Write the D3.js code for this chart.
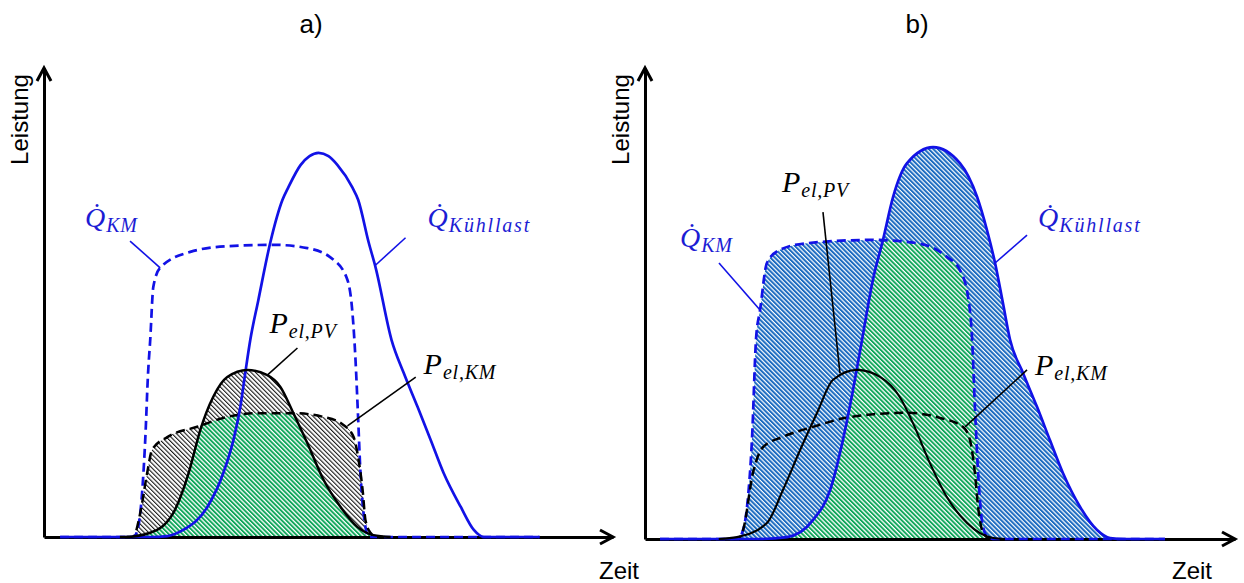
<!DOCTYPE html>
<html><head><meta charset="utf-8">
<script src="https://cdn.jsdelivr.net/npm/d3@7"></script>
<style>html,body{margin:0;padding:0;background:#fff;} svg{display:block;}</style>
</head><body>
<script>
// ---------- DATA (time in h, power in arbitrary units 0..100) ----------
const panelTitles = ["a)", "b)"];
const yAxisLabel = "Leistung";
const xAxisLabel = "Zeit";

// Panel a
const qKuehllastA = [[0.68,0],[4.5,0],[5.2,0.2],[5.87,1.5],[6.89,6.4],[7.56,13.6],[7.99,20.7],[8.28,27.7],[8.49,35.0],[8.7,42.0],[9.04,50.5],[9.55,62.9],[10.06,71.9],[10.31,74.6],[10.82,79.3],[11.2,81.2],[11.58,81.9],[12.0,81.2],[12.38,79.3],[13.0,74.6],[13.25,71.9],[13.69,62.9],[13.99,57.4],[14.66,42.0],[15.17,35.0],[15.76,27.7],[16.31,20.7],[16.86,13.6],[17.58,6.4],[18.13,1.5],[18.55,0],[20.9,0]];
const qKmA = [[0.68,0],[3.7,0],[3.85,0.4],[4.06,5.1],[4.27,20.7],[4.39,35.0],[4.48,42.0],[4.61,53.3],[4.9,57.4],[6.17,60.8],[7.73,62.0],[9.68,62.3],[11.11,61.6],[12.21,59.1],[12.8,54.8],[13.01,47.8],[13.14,37.7],[13.23,27.7],[13.35,13.6],[13.56,2.1],[13.69,0],[20.9,0]];
const pElPvA = [[3.2,0],[3.42,0],[4.48,0.9],[5.45,5.1],[6.1,13.6],[6.59,22.8],[7.14,29.9],[7.73,34.1],[8.58,35.6],[9.42,34.5],[9.97,32.0],[10.52,26.4],[11.11,20.0],[11.79,12.2],[12.51,6.4],[13.23,2.1],[13.9,0.4],[14.62,0]];
const pElKmA = [[3.5,0],[3.76,0],[4.06,5.1],[4.35,13.6],[4.56,18.6],[5.2,21.3],[6.46,23.5],[7.73,25.6],[9.0,26.4],[10.52,26.4],[11.79,25.6],[12.63,23.9],[13.06,21.3],[13.27,16.4],[13.44,10.0],[13.56,3.6],[13.77,0.9],[13.99,0],[14.3,0]];

// Panel b
const qKuehllastB = [[0.61,0],[4.68,0],[5.78,0.4],[6.83,4.0],[7.53,10.4],[8.05,21.0],[8.46,31.6],[8.83,42.3],[9.27,55.0],[9.68,63.5],[10.09,72.6],[10.66,79.8],[11.72,83.2],[12.81,79.8],[13.51,72.6],[13.91,65.6],[14.24,58.6],[14.56,50.1],[14.85,42.3],[15.38,35.2],[15.95,28.0],[16.47,21.0],[17.0,14.0],[17.7,6.8],[18.39,1.9],[18.92,0.2],[19.53,0],[21.15,0]];
const qKmB = [[0.61,0],[3.78,0],[3.95,1.3],[4.15,6.8],[4.35,21.0],[4.52,42.7],[4.68,48.6],[4.96,58.6],[5.49,61.4],[6.59,62.8],[9.27,63.5],[11.06,62.8],[12.28,59.9],[12.81,57.1],[13.14,51.4],[13.3,42.9],[13.42,28.0],[13.55,14.0],[13.75,2.5],[13.95,0.4],[14.24,0],[21.15,0]];
const pElPvB = [[3.0,0],[3.74,0.4],[4.96,3.4],[5.61,10.4],[6.31,18.9],[7.0,26.8],[7.65,33.8],[8.62,35.9],[9.56,34.4],[10.37,30.1],[10.9,24.6],[11.59,16.1],[12.28,8.9],[13.1,3.4],[14.16,0.2],[14.64,0]];
const pElKmB = [[3.6,0],[3.78,0],[3.99,1.9],[4.39,14.0],[4.8,19.5],[5.61,21.7],[6.83,23.8],[8.34,25.9],[10.66,26.8],[12.0,25.7],[12.94,23.8],[13.22,21.0],[13.42,14.0],[13.55,6.8],[13.75,1.3],[14.03,0]];

// Labels: [main, subscript, t, v, kind]
const labelsA = [["Q\u0307","KM",1.73,66.1,"q"],["Q\u0307","Kühllast",16.18,66.1,"q"],["P","el,PV",9.51,43.5,"p"],["P","el,KM",16.01,34.8,"p"]];
const labelsB = [["Q\u0307","KM",1.42,62.0,"q"],["P","el,PV",5.57,73.7,"p"],["Q\u0307","Kühllast",15.99,66.2,"q"],["P","el,KM",15.86,34.8,"p"]];
// Leader lines: [t1,v1,t2,v2,kind]
const leadersA = [[3.63,63.1,4.9,57.4,"q"],[15.25,63.8,13.99,58.0,"q"],[10.69,40.3,9.42,34.5,"p"],[15.68,34.1,12.8,23.7,"p"]];
const leadersB = [[3.01,58.6,4.68,48.6,"q"],[7.24,69.4,7.93,35.2,"p"],[15.54,64.5,14.24,58.6,"q"],[15.54,35.9,13.02,23.8,"p"]];

// ---------- DRAWING ----------
const W = 1244, H = 583;
const BLUE = "#1212e6", BLUE_TXT = "#1c1cd4";
const svg = d3.select("body").append("svg").attr("width", W).attr("height", H)
  .style("background", "#fff");

const defs = svg.append("defs");
function hatch(id, color, stripe, period, bg) {
  const p = defs.append("pattern").attr("id", id).attr("patternUnits", "userSpaceOnUse")
    .attr("width", period).attr("height", period).attr("patternTransform", "rotate(-45)");
  p.append("rect").attr("width", period).attr("height", period).attr("fill", bg);
  p.append("rect").attr("width", stripe).attr("height", period).attr("fill", color);
}
hatch("hGreen", "#0fa65a", 1.9, 3.2, "#ffffff");
hatch("hBlue", "#1c6bc0", 2.0, 3.2, "#ffffff");
hatch("hGray", "#1a1a1a", 1.1, 3.2, "#ffffff");

const layouts = [
  {x0: 44, x1: 613, y0: 537, yTop: 68, title: [311, 33], ylab: [28, 119.5], xlab: [599, 579]},
  {x0: 645, x1: 1235, y0: 539, yTop: 68, title: [917, 33], ylab: [629, 119.5], xlab: [1172, 579]}
];

function drawPanel(i, L, series, labels, leaders) {
  const g = svg.append("g");
  const x = d3.scaleLinear().domain([0, 24]).range([L.x0, L.x1]);
  const y = d3.scaleLinear().domain([0, 100]).range([L.y0, L.yTop]);
  const line = d3.line().x(d => x(d[0])).y(d => y(d[1])).curve(d3.curveMonotoneX);
  const area = d3.area().x(d => x(d[0])).y0(y(0)).y1(d => y(d[1])).curve(d3.curveMonotoneX);

  const clipId = "clip" + i;
  defs.append("clipPath").attr("id", clipId).append("path").attr("d", area(series.clip));

  // fills
  series.fillUnion.forEach(s => g.append("path").attr("d", area(s)).attr("fill", `url(#${series.hatch})`));
  g.append("path").attr("d", area(series.inter)).attr("fill", "url(#hGreen)").attr("clip-path", `url(#${clipId})`);

  // axes (no ticks)
  const ax = g.append("g").attr("transform", `translate(0,${L.y0})`)
    .call(d3.axisBottom(x).tickValues([]).tickSizeOuter(0));
  const ay = g.append("g").attr("transform", `translate(${L.x0},0)`)
    .call(d3.axisLeft(y).tickValues([]).tickSizeOuter(0));
  [ax, ay].forEach(a => a.select(".domain").attr("stroke", "#000").attr("stroke-width", 3));
  g.append("path").attr("d", `M${L.x1 - 13},${L.y0 - 7}L${L.x1},${L.y0}L${L.x1 - 13},${L.y0 + 7}`)
    .attr("fill", "none").attr("stroke", "#000").attr("stroke-width", 3);
  g.append("path").attr("d", `M${L.x0 - 7},${L.yTop + 13}L${L.x0},${L.yTop}L${L.x0 + 7},${L.yTop + 13}`)
    .attr("fill", "none").attr("stroke", "#000").attr("stroke-width", 3);

  // curves
  g.append("path").attr("d", line(series.qKm)).attr("fill", "none").attr("stroke", BLUE)
    .attr("stroke-width", 2.7).attr("stroke-dasharray", "9,5");
  g.append("path").attr("d", line(series.pKm)).attr("fill", "none").attr("stroke", "#000")
    .attr("stroke-width", 2.5).attr("stroke-dasharray", "9,5");
  g.append("path").attr("d", line(series.qK)).attr("fill", "none").attr("stroke", BLUE)
    .attr("stroke-width", 2.7);
  g.append("path").attr("d", line(series.pPv)).attr("fill", "none").attr("stroke", "#000")
    .attr("stroke-width", i === 0 ? 2.5 : 2.1);

  // leaders
  leaders.forEach(l => g.append("line")
    .attr("x1", x(l[0])).attr("y1", y(l[1])).attr("x2", x(l[2])).attr("y2", y(l[3]))
    .attr("stroke", l[4] === "q" ? BLUE : "#000").attr("stroke-width", 1.6));

  // labels
  labels.forEach(lb => {
    const isQ = lb[4] === "q";
    const t = g.append("text").attr("x", x(lb[2])).attr("y", y(lb[3]))
      .attr("font-family", "'Liberation Serif', serif").attr("font-style", "italic")
      .attr("fill", isQ ? BLUE_TXT : "#000");
    t.append("tspan").attr("font-size", isQ ? 28 : 30).text(lb[0]);
    t.append("tspan").attr("font-size", 20).attr("dy", 5).attr("dx", 1)
      .attr("letter-spacing", lb[1] === "Kühllast" ? 1.8 : 0.8).text(lb[1]);
  });

  // texts
  const sans = "'Liberation Sans', Arial, sans-serif";
  g.append("text").attr("x", L.title[0]).attr("y", L.title[1]).attr("text-anchor", "middle")
    .attr("font-family", sans).attr("font-size", 26).text(panelTitles[i]);
  g.append("text").attr("transform", `translate(${L.ylab[0]},${L.ylab[1]}) rotate(-90)`)
    .attr("text-anchor", "middle").attr("font-family", sans).attr("font-size", 24).text(yAxisLabel);
  g.append("text").attr("x", L.xlab[0]).attr("y", L.xlab[1])
    .attr("font-family", sans).attr("font-size", 24).text(xAxisLabel);
}

drawPanel(0, layouts[0], {
  qK: qKuehllastA, qKm: qKmA, pPv: pElPvA, pKm: pElKmA,
  fillUnion: [pElPvA, pElKmA], hatch: "hGray", inter: pElPvA, clip: pElKmA
}, labelsA, leadersA);

drawPanel(1, layouts[1], {
  qK: qKuehllastB, qKm: qKmB, pPv: pElPvB, pKm: pElKmB,
  fillUnion: [qKuehllastB, qKmB], hatch: "hBlue", inter: qKuehllastB, clip: qKmB
}, labelsB, leadersB);
</script>
</body></html>
